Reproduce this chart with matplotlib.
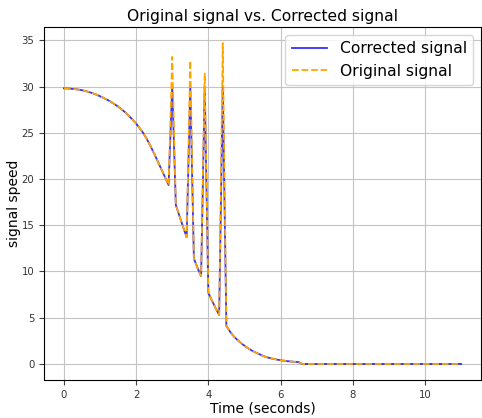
import numpy as np
import matplotlib
matplotlib.use("Agg")
import matplotlib.pyplot as plt

time_s = [round(0.1 * i, 1) for i in range(111)]

smooth_start = [29.80, 29.79, 29.76, 29.72, 29.67, 29.60, 29.51, 29.40, 29.27, 29.12,
                28.95, 28.77, 28.57, 28.35, 28.10, 27.83, 27.53, 27.20, 26.83, 26.43,
                26.00, 25.50, 24.95, 24.30, 23.55, 22.75, 21.90, 21.05, 20.20, 19.35]
# t = 3.0 .. 4.5
middle_original = [33.2, 17.2, 16.0, 14.85, 13.7, 32.8, 11.4, 10.4, 9.5, 31.4,
                   7.7, 6.85, 6.05, 5.3, 34.7, 4.1]
middle_corrected = [30.0, 17.2, 16.0, 14.85, 13.7, 30.0, 11.4, 10.4, 9.5, 30.0,
                    7.7, 6.85, 6.05, 5.3, 30.0, 4.1]
# t = 4.6 .. 6.5
tail = [3.50, 3.00, 2.62, 2.28, 1.97, 1.70, 1.46, 1.26, 1.08, 0.90,
        0.75, 0.64, 0.55, 0.47, 0.40, 0.35, 0.30, 0.26, 0.23, 0.20]
zeros = [0.0] * 45  # t = 6.6 .. 11.0

original_signal = smooth_start + middle_original + tail + zeros
corrected_signal = smooth_start + middle_corrected + tail + zeros

fig = plt.figure(figsize=(4.82, 4.18), dpi=100)
ax = fig.add_axes([44/482, 1 - 380/418, (481-44)/482, (380-27)/418])
ax.plot(time_s, corrected_signal, color="blue", alpha=0.8, linewidth=1.3, label="Corrected signal")
ax.plot(time_s, original_signal, color="orange", linestyle="--", linewidth=1.3, label="Original signal")
ax.grid(True, color="#c4c4c4", linewidth=0.8)
ax.set_axisbelow(True)
ax.set_title("Original signal vs. Corrected signal", fontsize=11.2, pad=4)
ax.set_xlabel("Time (seconds)", fontsize=10, labelpad=1)
ax.set_ylabel("signal speed", fontsize=10, labelpad=0)
ax.tick_params(labelsize=7.3, colors="#444444", labelcolor="#333333")
ax.set_xticks([0, 2, 4, 6, 8, 10])
ax.set_yticks([0, 5, 10, 15, 20, 25, 30, 35])
ax.legend(fontsize=11.2, loc="upper right", handlelength=2.3)
fig.savefig("out.png", dpi=100)
